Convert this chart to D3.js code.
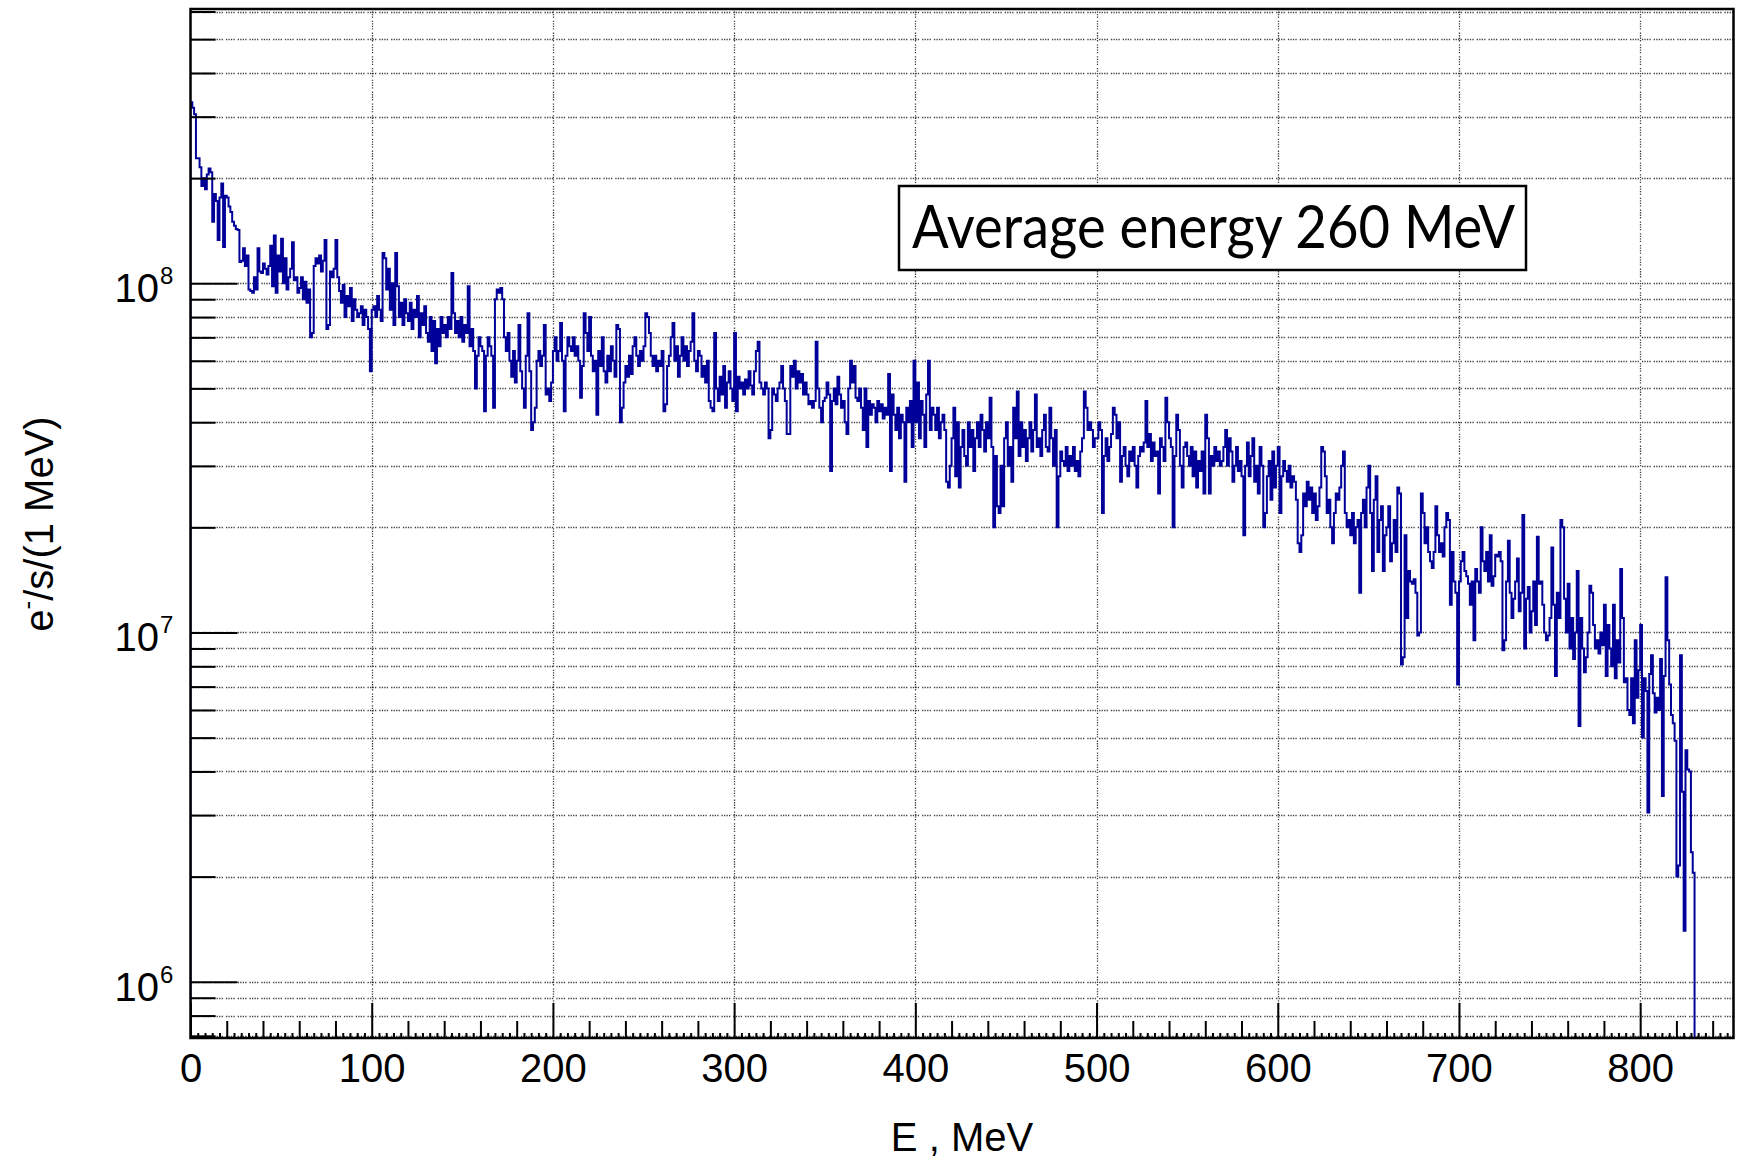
<!DOCTYPE html>
<html>
<head>
<meta charset="utf-8">
<script src="https://cdn.jsdelivr.net/npm/d3@7"></script>
<style>
  html, body { margin: 0; padding: 0; background: #fff; }
  svg { display: block; }
</style>
</head>
<body>
<div id="chart"></div>
<script>
// Electron spectrum, 1 MeV bins starting at 0 MeV.
// Bin contents are in units of 1e6 e-/s per MeV.
const UNIT = 1e6;

const bins0to99 = [
  330, 318, 305, 228, 228, 215, 190, 200, 186, 205,
  213, 208, 150, 180, 172, 133, 176, 193, 127, 178,
  176, 166, 160, 150, 146, 143, 142, 115, 116, 126,
  112, 120, 96, 95, 94, 104, 96, 126, 108, 107,
  114, 110, 106, 112, 128, 98, 137, 94, 120, 108,
  134, 100, 118, 96, 104, 110, 131, 102, 104, 94,
  97, 104, 90, 101, 88, 96, 70, 72, 112, 118,
  114, 120, 108, 116, 133, 74, 76, 108, 104, 110,
  133, 104, 95, 88, 99, 80, 92, 86, 97, 78,
  90, 84, 80, 82, 86, 76, 84, 80, 74, 56
];
const bins100to199 = [
  84, 86, 80, 92, 84, 78, 122, 118, 96, 110,
  84, 100, 76, 122, 98, 80, 88, 76, 90, 82,
  78, 88, 74, 84, 80, 92, 70, 82, 76, 86,
  72, 68, 80, 64, 78, 59, 74, 66, 80, 72,
  76, 70, 80, 74, 107, 82, 72, 78, 70, 80,
  68, 76, 72, 98, 66, 74, 64, 50, 62, 70,
  66, 64, 43, 62, 70, 66, 62, 44, 90, 96,
  94, 97, 90, 70, 64, 72, 60, 54, 64, 52,
  60, 76, 56, 50, 44, 62, 82, 56, 38, 40,
  44, 60, 64, 58, 62, 76, 48, 50, 46, 52
];
const bins200to299 = [
  64, 70, 60, 64, 77, 60, 43, 62, 70, 66,
  64, 70, 62, 66, 60, 47, 58, 82, 72, 64,
  80, 62, 56, 60, 42, 64, 58, 70, 56, 52,
  62, 56, 66, 60, 54, 76, 74, 40, 44, 52,
  58, 54, 62, 55, 66, 70, 62, 58, 64, 60,
  66, 82, 80, 72, 62, 58, 62, 56, 60, 58,
  64, 43, 45, 58, 62, 70, 77, 60, 66, 54,
  62, 70, 60, 66, 58, 64, 68, 82, 60, 56,
  64, 62, 54, 58, 52, 60, 46, 44, 43, 72,
  50, 46, 54, 48, 58, 44, 52, 56, 50, 46
];
const bins300to399 = [
  72, 43, 54, 50, 52, 48, 53, 50, 56, 51,
  48, 56, 64, 68, 52, 50, 48, 52, 50, 36,
  38, 50, 48, 46, 50, 52, 58, 50, 46, 37,
  37, 58, 54, 60, 50, 56, 52, 55, 48, 52,
  48, 45, 46, 44, 46, 68, 50, 44, 40, 46,
  47, 52, 48, 29, 46, 50, 45, 54, 48, 44,
  46, 40, 37, 50, 60, 52, 58, 47, 46, 50,
  44, 38, 50, 34, 46, 42, 45, 44, 40, 46,
  43, 45, 41, 44, 42, 55, 29, 48, 42, 38,
  44, 36, 42, 40, 27, 44, 40, 46, 34, 60
];
const bins400to499 = [
  40, 52, 36, 46, 42, 34, 48, 60, 38, 44,
  42, 38, 44, 36, 40, 42, 38, 27, 26, 30,
  36, 44, 28, 40, 26, 34, 38, 32, 30, 40,
  34, 38, 29, 36, 40, 34, 42, 38, 33, 40,
  36, 47, 34, 20, 32, 23, 22, 30, 23, 36,
  40, 30, 34, 27, 44, 36, 49, 32, 40, 34,
  38, 31, 36, 40, 33, 38, 48, 34, 36, 32,
  38, 42, 34, 33, 44, 36, 30, 38, 20, 28,
  33, 31, 30, 34, 29, 32, 30, 34, 29, 31,
  28, 33, 36, 49, 44, 38, 40, 38, 34, 36
];
const bins500to599 = [
  36, 40, 38, 22, 32, 36, 31, 34, 37, 44,
  42, 36, 40, 27, 32, 34, 30, 28, 33, 31,
  34, 30, 26, 32, 34, 33, 35, 46, 34, 37,
  31, 35, 32, 33, 25, 36, 34, 31, 47, 40,
  36, 34, 20, 32, 42, 38, 30, 26, 34, 35,
  32, 30, 34, 28, 33, 26, 31, 29, 33, 25,
  42, 36, 25, 32, 30, 34, 31, 33, 30, 31,
  34, 38, 30, 36, 33, 27, 30, 34, 29, 31,
  28, 19, 30, 35, 28, 32, 36, 27, 30, 25,
  34, 30, 20, 22, 28, 31, 24, 33, 26, 30
];
const bins600to699 = [
  34, 22, 28, 31, 29, 27, 30, 26, 28, 27,
  24, 18, 17, 19, 25, 23, 27, 24, 26, 22,
  25, 21, 23, 26, 34, 33, 28, 22, 24, 20,
  18, 22, 25, 24, 26, 30, 33, 22, 20, 21,
  19, 22, 18, 20, 21, 13, 22, 24, 20, 26,
  30, 22, 15, 24, 28, 17, 21, 23, 15, 19,
  20, 23, 16, 18, 21, 17, 26, 25, 8.1, 8.5,
  19, 11, 15, 14, 13.8, 14.2, 13, 9.8, 10, 25,
  22, 18, 20, 17, 16, 15.3, 17, 23, 19, 17,
  18, 16.5, 20, 22, 21, 12, 17, 14, 13, 7.1
];
const bins700to799 = [
  14, 16, 17, 15, 14.5, 13.8, 12, 14, 9.5, 15.2,
  14, 13, 20, 16, 15, 17, 14, 19, 13.6, 14.5,
  16.7, 16.5, 17, 16, 8.9, 9.5, 14, 18.3, 13, 11,
  12.5, 14, 16.3, 11.5, 13, 21.7, 9, 12.5, 13.5, 10,
  11.5, 14, 10.5, 18.8, 13.8, 14, 12, 10, 9.5, 9.8,
  11, 17.5, 12, 7.5, 13, 11, 21, 20, 12.5, 10,
  13.8, 9, 11, 8.4, 10, 15, 5.4, 11, 9, 7.7,
  8.5, 10, 13.6, 13, 10.5, 9, 9.5, 8.7, 10, 9.2,
  12, 7.5, 10.5, 9, 8, 12, 7.4, 9.5, 8.2, 15.2,
  11, 7.2, 7.4, 6, 5.8, 7.4, 5.5, 9.5, 6.5, 7.8
];
const bins800to829 = [
  10.5, 5, 7.4, 6.8, 3.05, 7.6, 8.6, 6.7, 5.9, 6.5,
  6, 8.4, 3.4, 7.5, 14.4, 9.5, 7.1, 5.8, 5.5, 4.9,
  2, 2.15, 8.6, 3.5, 1.4, 4.6, 4.05, 4, 2.35, 2.05
];

const xTickLabels = [0, 100, 200, 300, 400, 500, 600, 700, 800];
const yDecades = [1e6, 1e7, 1e8];
const xRange = [0, 851.5];
const yRange = [6.9e5, 6.1e8];
const xTitle = 'E , MeV';
const noteText = 'Average energy 260 MeV';

const counts = [].concat(bins0to99, bins100to199, bins200to299, bins300to399,
  bins400to499, bins500to599, bins600to699, bins700to799, bins800to829)
  .map(v => v * UNIT);

const W = 1737, H = 1160;
const frame = { left: 190.5, right: 1733.5, top: 9, bottom: 1038 };
const axisFont = '"Liberation Sans", Arial, Helvetica, sans-serif';

const svg = d3.select('#chart').append('svg')
  .attr('width', W)
  .attr('height', H);

const x = d3.scaleLinear().domain(xRange).range([frame.left, frame.right]);
const y = d3.scaleLog().domain(yRange).range([frame.bottom, frame.top]);

svg.append('clipPath').attr('id', 'plotArea')
  .append('rect')
  .attr('x', frame.left).attr('y', frame.top)
  .attr('width', frame.right - frame.left)
  .attr('height', frame.bottom - frame.top);

// dotted grid
const gridDash = '1.3,1.2,1.3,1.2,1.3,1.2,1.3,3';
const yGrid = y.ticks().filter(t => t >= yRange[0] && t <= yRange[1]);
svg.append('g').selectAll('line')
  .data(yGrid)
  .join('line')
  .attr('x1', frame.left).attr('x2', frame.right)
  .attr('y1', d => Math.round(y(d)) + 0.5).attr('y2', d => Math.round(y(d)) + 0.5)
  .attr('stroke', '#000').attr('stroke-opacity', 0.75)
  .attr('stroke-width', 1.3).attr('stroke-dasharray', gridDash);
svg.append('g').selectAll('line')
  .data(xTickLabels.slice(1))
  .join('line')
  .attr('x1', d => Math.round(x(d)) + 0.5).attr('x2', d => Math.round(x(d)) + 0.5)
  .attr('y1', frame.top).attr('y2', frame.bottom)
  .attr('stroke', '#000').attr('stroke-opacity', 0.75)
  .attr('stroke-width', 1.3).attr('stroke-dasharray', gridDash);

// histogram outline, drawn from the bottom of the frame
const pts = [[0, yRange[0]]]
  .concat(counts.map((v, i) => [i, v]))
  .concat([[counts.length, counts[counts.length - 1]], [counts.length, yRange[0] / 2]]);
const line = d3.line()
  .x(d => x(d[0]))
  .y(d => y(d[1]))
  .curve(d3.curveStepAfter);
svg.append('path')
  .attr('clip-path', 'url(#plotArea)')
  .attr('d', line(pts))
  .attr('fill', 'none')
  .attr('stroke', '#000099')
  .attr('stroke-width', 2);

// y ticks (inside the frame)
const yMinor = yGrid.filter(t => !yDecades.includes(t));
function yTicks(values, size) {
  const g = svg.append('g')
    .attr('transform', `translate(${frame.left},0)`)
    .call(d3.axisRight(y).tickValues(values).tickSize(size).tickFormat(''));
  g.select('.domain').remove();
  g.selectAll('line').attr('stroke', '#000').attr('stroke-width', 2);
}
yTicks(yMinor, 25);
yTicks(yDecades, 47);

// x ticks (inside the frame)
function xTicks(values, size) {
  const g = svg.append('g')
    .attr('transform', `translate(0,${frame.bottom})`)
    .call(d3.axisTop(x).tickValues(values).tickSize(size).tickFormat(''));
  g.select('.domain').remove();
  g.selectAll('line').attr('stroke', '#000').attr('stroke-width', 2);
}
xTicks(d3.range(0, 851, 4).filter(d => d % 20 !== 0), 5);
xTicks(d3.range(0, 851, 20).filter(d => d % 100 !== 0), 17);
xTicks(xTickLabels, 35);

// frame
svg.append('rect')
  .attr('x', frame.left).attr('y', frame.top)
  .attr('width', frame.right - frame.left)
  .attr('height', frame.bottom - frame.top)
  .attr('fill', 'none')
  .attr('stroke', '#000')
  .attr('stroke-width', 2.5);

// x tick labels
const xl = svg.append('g')
  .attr('transform', `translate(0,${frame.bottom})`)
  .call(d3.axisBottom(x).tickValues(xTickLabels).tickSize(0).tickPadding(15.6));
xl.select('.domain').remove();
xl.selectAll('text')
  .attr('font-family', axisFont)
  .attr('font-size', 40)
  .attr('fill', '#000');

// y tick labels: 10^n
const yl = svg.append('g').selectAll('g')
  .data(yDecades)
  .join('g');
yl.append('text')
  .attr('x', 159)
  .attr('y', d => y(d) + 19)
  .attr('text-anchor', 'end')
  .attr('font-family', axisFont)
  .attr('font-size', 40)
  .text('10');
yl.append('text')
  .attr('x', 160)
  .attr('y', d => y(d) + 1)
  .attr('font-family', axisFont)
  .attr('font-size', 24)
  .text(d => Math.round(Math.log10(d)));

// axis titles
svg.append('text')
  .attr('x', (frame.left + frame.right) / 2)
  .attr('y', 1151)
  .attr('text-anchor', 'middle')
  .attr('font-family', axisFont)
  .attr('font-size', 40)
  .text(xTitle);

const yt = svg.append('text')
  .attr('transform', 'translate(53,524) rotate(-90)')
  .attr('text-anchor', 'middle')
  .attr('font-family', axisFont)
  .attr('font-size', 40);
yt.append('tspan').text('e');
yt.append('tspan').attr('font-size', 26).attr('dy', -17).text('-');
yt.append('tspan').attr('dy', 17).text('/s/(1 MeV)');

// annotation box
svg.append('rect')
  .attr('x', 899).attr('y', 186)
  .attr('width', 627).attr('height', 84)
  .attr('fill', '#fff')
  .attr('stroke', '#000')
  .attr('stroke-width', 2.5);
svg.append('text')
  .attr('x', 912).attr('y', 248)
  .attr('font-family', 'Lato, "Open Sans", sans-serif')
  .attr('font-size', 60)
  .attr('textLength', 603)
  .attr('lengthAdjust', 'spacingAndGlyphs')
  .text(noteText);
</script>
</body>
</html>
